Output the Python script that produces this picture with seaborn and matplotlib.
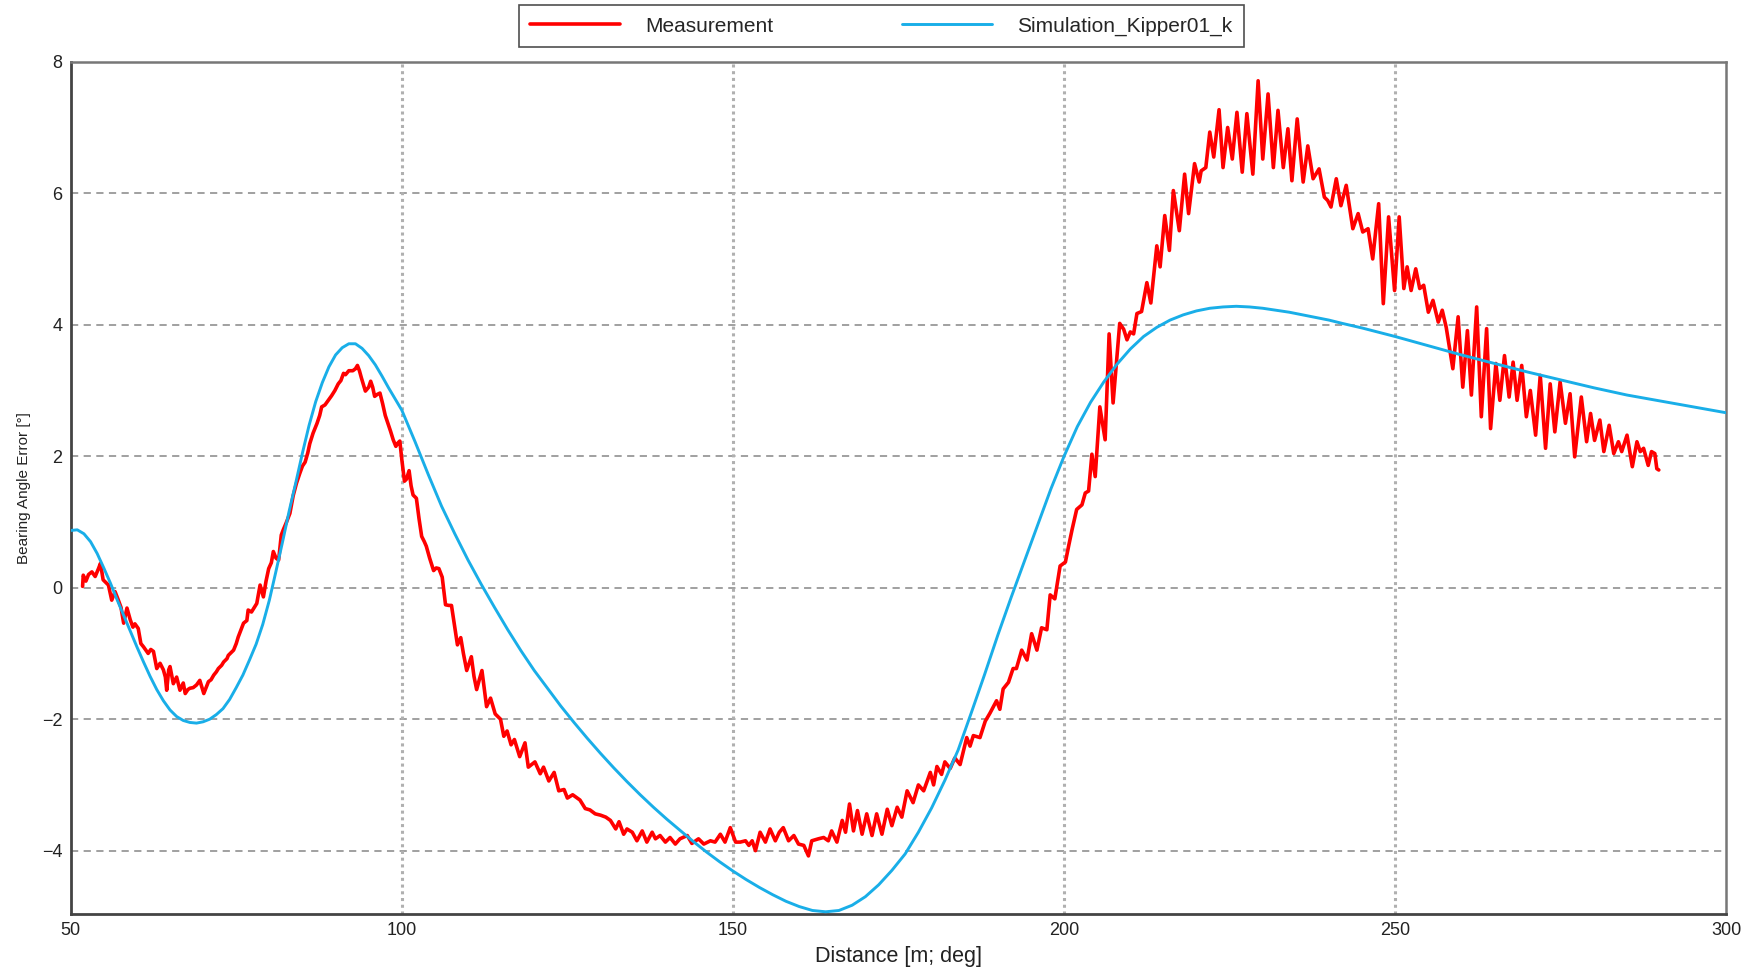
import seaborn as sns
import pandas as pd
import numpy as np
import matplotlib.pyplot as plt

meas_x = [51.8, 51.9, 52.3, 52.7, 53.2, 53.7, 54.2, 54.5, 54.9, 55.3, 55.7, 56.2, 56.7, 57.2, 57.6, 58.0, 58.5, 59.0, 59.4, 59.7,
          60.2, 60.6, 61.0, 61.7, 62.1, 62.5, 63.0, 63.5, 64.0, 64.3, 64.5, 64.8, 65.0, 65.5, 66.0, 66.5, 67.0, 67.3, 67.7, 68.0,
          68.5, 69.0, 69.5, 70.1, 70.8, 71.2, 71.6, 72.0, 72.3, 72.8, 73.1, 73.6, 73.8, 74.3, 74.6, 75.0, 75.3, 75.8, 76.1, 76.6,
          76.8, 77.3, 77.8, 78.1, 78.6, 79.1, 79.5, 79.9, 80.3, 80.6, 81.0, 81.4, 81.8, 82.1, 82.6, 83.1, 83.6, 84.1, 84.6, 85.0,
          85.4, 85.8, 86.1, 86.6, 87.2, 87.6, 87.9, 88.4, 88.9, 89.4, 89.9, 90.4, 90.8, 91.2, 91.5, 92.0, 92.6, 93.0, 93.3, 93.6,
          93.9, 94.5, 95.0, 95.3, 95.6, 95.9, 96.3, 96.7, 97.1, 97.5, 97.9, 98.3, 98.7, 99.1, 99.4, 99.7, 100.0, 100.4, 100.7, 101.1,
          101.4, 101.7, 102.2, 102.6, 103.0, 103.4, 103.7, 104.2, 104.8, 105.2, 105.6, 106.1, 106.6, 107.1, 107.5, 108.0, 108.4, 108.9, 109.3, 109.8,
          110.5, 110.9, 111.3, 111.7, 112.1, 112.8, 113.4, 114.1, 114.9, 115.4, 115.9, 116.5, 117.0, 117.8, 118.6, 119.1, 120.1, 120.9, 121.4, 122.2,
          123.0, 123.7, 124.5, 125.0, 125.8, 126.9, 127.7, 128.4, 129.2, 130.0, 130.8, 131.5, 132.3, 132.8, 133.5, 134.0, 134.8, 135.5, 136.3, 137.0,
          137.8, 138.3, 139.0, 139.8, 140.5, 141.3, 142.0, 143.1, 143.8, 144.8, 145.6, 146.6, 147.3, 148.1, 148.8, 149.6, 150.4, 151.1, 151.9, 152.4,
          152.9, 153.4, 154.1, 154.9, 155.6, 156.4, 157.0, 157.6, 158.4, 159.2, 159.9, 160.7, 161.4, 161.9, 162.9, 163.7, 164.4, 164.9, 165.7, 166.5,
          167.0, 167.6, 168.2, 168.8, 169.5, 170.2, 171.0, 171.7, 172.5, 173.3, 174.0, 174.8, 175.5, 176.3, 177.2, 178.0, 178.8, 179.8, 180.3, 180.8,
          181.5, 182.0, 182.8, 183.5, 184.3, 185.3, 185.8, 186.3, 187.3, 188.1, 188.8, 189.8, 190.3, 190.8, 191.6, 192.3, 192.8, 193.6, 194.4, 195.1,
          195.9, 196.6, 197.4, 197.9, 198.6, 199.4, 200.2, 200.7, 201.2, 201.9, 202.7, 203.2, 203.7, 204.2, 204.7, 205.4, 206.2, 206.8, 207.4, 208.4,
          209.0, 209.5, 210.0, 210.5, 211.0, 211.7, 212.5, 213.1, 214.0, 214.5, 215.2, 215.9, 216.5, 217.4, 218.2, 218.8, 219.7, 220.4, 220.7, 221.4,
          222.0, 222.6, 223.4, 224.0, 224.7, 225.4, 226.1, 226.9, 227.6, 228.5, 229.3, 230.0, 230.8, 231.6, 232.3, 233.1, 233.8, 234.4, 235.2, 236.1,
          236.8, 237.6, 238.5, 239.3, 239.8, 240.3, 241.1, 241.8, 242.6, 243.6, 244.4, 245.1, 245.9, 246.6, 247.5, 248.2, 249.0, 249.9, 250.6, 251.3,
          251.8, 252.4, 253.1, 253.7, 254.3, 255.0, 255.7, 256.5, 257.1, 257.7, 258.2, 258.7, 259.5, 260.2, 260.9, 261.5, 262.3, 263.0, 263.8, 264.4,
          265.2, 265.8, 266.5, 267.2, 267.8, 268.4, 269.1, 269.8, 270.4, 271.2, 271.9, 272.7, 273.4, 274.1, 274.9, 275.7, 276.4, 277.1, 278.1, 278.9,
          279.5, 280.1, 280.9, 281.5, 282.3, 283.0, 283.7, 284.2, 285.0, 285.8, 286.5, 287.0, 287.5, 288.2, 288.7, 289.2, 289.5, 289.8]
meas_y = [0.02, 0.19, 0.10, 0.20, 0.24, 0.17, 0.29, 0.37, 0.12, 0.08, 0.04, -0.19, -0.06, -0.19, -0.30, -0.54, -0.31, -0.49, -0.60, -0.55,
          -0.62, -0.85, -0.90, -1.00, -0.94, -0.97, -1.23, -1.15, -1.25, -1.36, -1.56, -1.25, -1.20, -1.46, -1.36, -1.56, -1.45, -1.61, -1.55, -1.53,
          -1.52, -1.48, -1.41, -1.61, -1.43, -1.40, -1.33, -1.28, -1.23, -1.18, -1.13, -1.08, -1.03, -0.98, -0.95, -0.85, -0.75, -0.62, -0.54, -0.50,
          -0.34, -0.37, -0.29, -0.24, 0.04, -0.14, 0.10, 0.29, 0.38, 0.55, 0.45, 0.42, 0.80, 0.88, 1.00, 1.13, 1.40, 1.59, 1.74, 1.85,
          1.91, 2.05, 2.19, 2.35, 2.50, 2.62, 2.75, 2.78, 2.85, 2.92, 3.00, 3.10, 3.15, 3.26, 3.24, 3.30, 3.30, 3.33, 3.38, 3.30,
          3.19, 2.99, 3.05, 3.14, 3.05, 2.91, 2.94, 2.96, 2.80, 2.62, 2.50, 2.38, 2.25, 2.15, 2.20, 2.23, 1.95, 1.62, 1.65, 1.78,
          1.55, 1.41, 1.36, 1.05, 0.78, 0.70, 0.63, 0.45, 0.26, 0.30, 0.29, 0.16, -0.26, -0.27, -0.27, -0.60, -0.87, -0.76, -1.00, -1.26,
          -1.05, -1.35, -1.55, -1.40, -1.26, -1.81, -1.68, -1.92, -2.00, -2.26, -2.18, -2.39, -2.31, -2.57, -2.36, -2.73, -2.65, -2.83, -2.73, -2.94,
          -2.81, -3.09, -3.07, -3.20, -3.15, -3.23, -3.36, -3.38, -3.44, -3.46, -3.49, -3.54, -3.67, -3.56, -3.75, -3.67, -3.72, -3.85, -3.70, -3.87,
          -3.72, -3.82, -3.77, -3.87, -3.80, -3.90, -3.82, -3.77, -3.89, -3.82, -3.90, -3.85, -3.87, -3.75, -3.87, -3.65, -3.87, -3.87, -3.85, -3.92,
          -3.85, -4.00, -3.72, -3.87, -3.67, -3.85, -3.72, -3.65, -3.85, -3.77, -3.90, -3.92, -4.08, -3.85, -3.82, -3.80, -3.85, -3.70, -3.87, -3.54,
          -3.72, -3.29, -3.70, -3.39, -3.75, -3.44, -3.77, -3.44, -3.75, -3.37, -3.62, -3.34, -3.49, -3.09, -3.27, -3.00, -3.09, -2.81, -3.00, -2.72,
          -2.84, -2.65, -2.75, -2.59, -2.69, -2.28, -2.41, -2.25, -2.28, -2.03, -1.91, -1.72, -1.85, -1.54, -1.44, -1.23, -1.23, -0.95, -1.10, -0.70,
          -0.95, -0.61, -0.64, -0.11, -0.17, 0.33, 0.39, 0.64, 0.88, 1.19, 1.26, 1.44, 1.47, 2.03, 1.69, 2.75, 2.25, 3.86, 2.81, 4.02,
          3.93, 3.77, 3.89, 3.86, 4.17, 4.20, 4.64, 4.33, 5.20, 4.88, 5.66, 5.13, 6.04, 5.43, 6.29, 5.69, 6.45, 6.17, 6.34, 6.39,
          6.93, 6.55, 7.27, 6.39, 7.00, 6.52, 7.23, 6.32, 7.21, 6.29, 7.71, 6.52, 7.51, 6.39, 7.26, 6.39, 6.98, 6.19, 7.13, 6.17,
          6.72, 6.22, 6.37, 5.94, 5.89, 5.79, 6.22, 5.81, 6.12, 5.46, 5.69, 5.41, 5.46, 5.00, 5.84, 4.32, 5.64, 4.52, 5.64, 4.55,
          4.88, 4.52, 4.85, 4.55, 4.60, 4.19, 4.37, 4.04, 4.22, 3.96, 3.64, 3.33, 4.12, 3.05, 3.91, 2.93, 4.27, 2.60, 3.94, 2.42,
          3.41, 2.85, 3.53, 2.90, 3.43, 2.85, 3.38, 2.60, 3.00, 2.32, 3.23, 2.12, 3.10, 2.37, 3.13, 2.50, 2.95, 1.99, 2.90, 2.22,
          2.65, 2.24, 2.55, 2.07, 2.47, 2.04, 2.22, 2.07, 2.32, 1.84, 2.22, 2.07, 2.12, 1.86, 2.07, 2.04, 1.81, 1.79]

# simulation curve (Kipper01_k)
sim_x = [50, 51, 52, 53, 54, 55, 56, 57, 58, 59, 60, 61, 62, 63, 64, 65, 66, 67, 68, 69,
         70, 71, 72, 73, 74, 75, 76, 77, 78, 79, 80, 81, 82, 83, 84, 85, 86, 87, 88, 89,
         90, 91, 92, 93, 94, 95, 96, 97, 98, 99, 100, 102, 104, 106, 108, 110, 112, 114, 116, 118,
         120, 122, 124, 126, 128, 130, 132, 134, 136, 138, 140, 142, 144, 146, 148, 150, 152, 154, 156, 158,
         160, 162, 164, 166, 168, 170, 172, 174, 176, 178, 180, 182, 184, 186, 188, 190, 192, 194, 196, 198,
         200, 202, 204, 206, 208, 210, 212, 214, 216, 218, 220, 222, 224, 226, 228, 230, 232, 234, 236, 238,
         240, 242, 245, 250, 255, 260, 265, 270, 275, 280, 285, 290, 295, 300]
sim_y = [0.87, 0.88, 0.82, 0.70, 0.52, 0.30, 0.07, -0.18, -0.42, -0.66, -0.90, -1.13, -1.35, -1.55, -1.72, -1.86, -1.96, -2.02, -2.05, -2.06,
         -2.04, -2.00, -1.93, -1.84, -1.70, -1.52, -1.33, -1.10, -0.86, -0.56, -0.19, 0.25, 0.70, 1.17, 1.60, 2.05, 2.47, 2.83, 3.12, 3.36,
         3.54, 3.65, 3.71, 3.71, 3.64, 3.53, 3.39, 3.22, 3.04, 2.87, 2.70, 2.22, 1.72, 1.24, 0.82, 0.42, 0.05, -0.30, -0.64, -0.96,
         -1.26, -1.53, -1.80, -2.05, -2.29, -2.52, -2.74, -2.95, -3.15, -3.34, -3.52, -3.69, -3.86, -4.02, -4.17, -4.31, -4.44, -4.56, -4.67, -4.77,
         -4.85, -4.91, -4.93, -4.91, -4.83, -4.70, -4.52, -4.30, -4.05, -3.72, -3.35, -2.93, -2.47, -1.90, -1.32, -0.72, -0.15, 0.40, 0.95, 1.50,
         2.00, 2.45, 2.82, 3.13, 3.40, 3.63, 3.82, 3.96, 4.07, 4.15, 4.21, 4.25, 4.27, 4.28, 4.27, 4.25, 4.22, 4.19, 4.15, 4.11,
         4.07, 4.02, 3.95, 3.82, 3.68, 3.54, 3.41, 3.28, 3.16, 3.04, 2.93, 2.84, 2.75, 2.66]

x_ticks = [50, 100, 150, 200, 250, 300]
y_ticks = [-4, -2, 0, 2, 4, 6, 8]

meas_df = pd.DataFrame({'Distance': meas_x, 'Error': meas_y})
sim_df = pd.DataFrame({'Distance': sim_x, 'Error': sim_y})

sns.set_style('white')
plt.rcParams['font.family'] = ['Liberation Sans', 'DejaVu Sans']

fig = plt.figure(figsize=(17.58, 9.69), dpi=100)
ax = fig.add_axes([0.0402, 0.057, 0.9418, 0.8793])

sns.lineplot(x='Distance', y='Error', data=meas_df, sort=False, estimator=None,
             color='#ff0000', linewidth=2.6, label='Measurement', ax=ax, zorder=3)
sns.lineplot(x='Distance', y='Error', data=sim_df, sort=False, estimator=None,
             color='#19aee8', linewidth=2.1, label='Simulation_Kipper01_k', ax=ax, zorder=4)

ax.set_xlim(50, 300)
ax.set_ylim(-4.96, 8)
ax.set_xticks(x_ticks)
ax.set_yticks(y_ticks)

# horizontal grid dashed, vertical grid dotted
for yv in y_ticks[:-1]:
    ax.axhline(yv, color='#999999', lw=1.3, ls=(0, (4, 3)), zorder=1)
for xv in x_ticks[1:-1]:
    ax.axvline(xv, color='#b0b0b0', lw=2.2, ls=(0, (1, 1.2)), zorder=1)

for side in ['left', 'bottom']:
    ax.spines[side].set_color('#444444')
    ax.spines[side].set_linewidth(2.0)
for side in ['top', 'right']:
    ax.spines[side].set_color('#777777')
    ax.spines[side].set_linewidth(1.8)

narrow = ['Liberation Sans Narrow', 'Liberation Sans', 'DejaVu Sans']
ax.tick_params(axis='both', length=0, labelsize=13, colors='#222222')
ax.tick_params(axis='x', pad=6)
ax.tick_params(axis='y', pad=6)
for lab in ax.get_xticklabels() + ax.get_yticklabels():
    lab.set_family(narrow)

ax.set_xlabel('Distance [m; deg]', fontsize=15.5, family=narrow, labelpad=5, color='#222222')
ax.set_ylabel('Bearing Angle Error [°]', fontsize=11, family=narrow, labelpad=8, color='#222222')

leg = ax.legend(loc='center', bbox_to_anchor=(0.4896, 1.0416), ncol=2, fontsize=15,
                handlelength=4.3, columnspacing=6.2, handletextpad=1.2,
                frameon=True, fancybox=False, borderpad=0.55, borderaxespad=0)
leg.get_frame().set_edgecolor('#222222')
leg.get_frame().set_linewidth(1.2)

fig.savefig('out.png', dpi=100)
